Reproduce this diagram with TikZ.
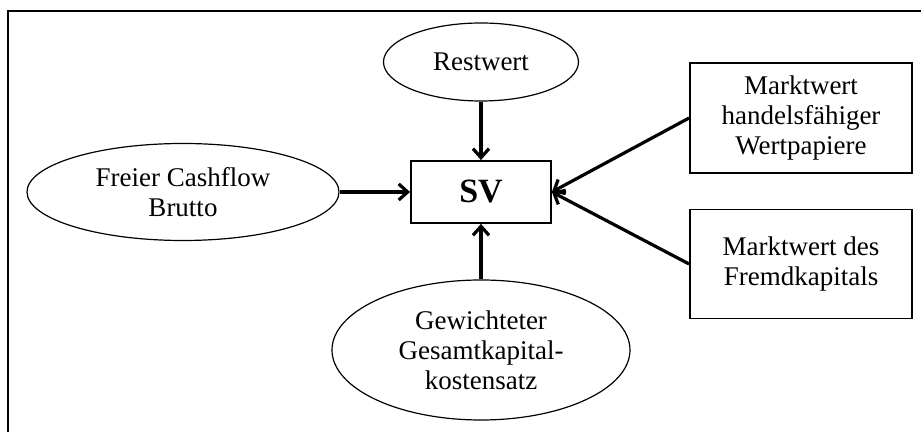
\documentclass[tikz,border=0pt]{standalone}
\usepackage{fontspec}
\setmainfont{Liberation Serif}
\usepackage{tikz}
\usetikzlibrary {arrows.meta, positioning, shapes.geometric}

\begin{document}
\begin{tikzpicture}[
      node distance=2cm,on grid,>={Straight Barb[length=4.5pt,width=8pt]},
      every node/.style={font=\fontsize{13.5}{15}\selectfont, align=center},
      oval/.style={ellipse, draw, line width=0.6pt, inner sep=0pt},
      kasten/.style={rectangle, draw, line width=0.9pt, inner sep=0pt},
      pfeil/.style={->, line width=1.6pt},
      ]

      \useasboundingbox (-240.5pt,96pt) rectangle (220pt,-120pt);
      \draw[line width=0.6pt] (-236.5pt,90.5pt) rectangle (225pt,-125pt);

      \node[kasten, minimum width=70pt, minimum height=31pt, font=\fontsize{17}{20}\selectfont\bfseries]
                                              (sv)                                {SV};
      \node[oval, minimum width=97.5pt, minimum height=39pt]
                                              (rest) [above=65pt of sv]           {Restwert};
      \node[oval, minimum width=156pt, minimum height=48.5pt]
                                              (fcf)  [left=149pt of sv]           {Freier Cashflow\\Brutto};
      \node[oval, minimum width=149pt, minimum height=70pt]
                                              (wacc) [below=79pt of sv]           {Gewichteter\\Gesamtkapital-\\kostensatz};
      \node[kasten, minimum width=111pt, minimum height=55pt]
                                              (wp)   [above right=37pt and 160pt of sv] {Marktwert\\handelsfähiger\\Wertpapiere};
      \node[kasten, minimum width=111pt, minimum height=54.5pt]
                                              (fk)   [below right=36pt and 160pt of sv] {Marktwert des\\Fremdkapitals};

      \draw[pfeil] (rest) -- (sv);
      \draw[pfeil] (fcf)  -- (sv);
      \draw[pfeil] (wacc) -- (sv);
      \draw[pfeil] (wp.west) -- (sv.east);
      \draw[pfeil] (fk.west) -- (sv.east);
    \end{tikzpicture}
\end{document}
